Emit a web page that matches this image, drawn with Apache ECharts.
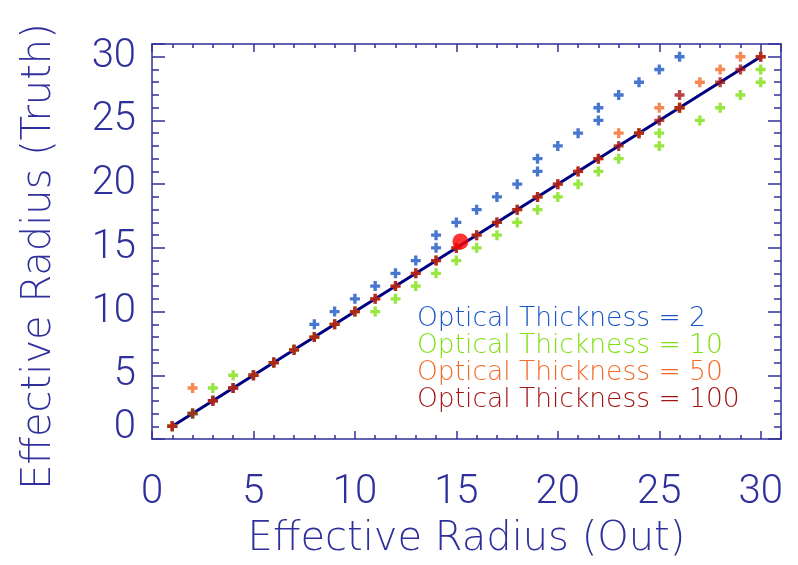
<!DOCTYPE html>
<html>
<head>
<meta charset="utf-8">
<script src="https://cdn.jsdelivr.net/npm/echarts@6/dist/echarts.min.js"></script>
<style>html,body{margin:0;padding:0;background:#fff;}#c{width:798px;height:565px;}</style>
</head>
<body>
<div id="c"></div>
<script>
// Effective Radius (Out) vs (Truth) for each optical thickness
const tau2X   = [1,2,3,4,5,6,7,8,9,10,11,12,13,14,14,15,16,17,18,19,19,20,21,22,22,23,24,25,26];
const tau2Y   = [1,2,3,4,5,6,7,9,10,11,12,13,14,15,16,17,18,19,20,21,22,23,24,25,26,27,28,29,30];
const tau10X  = [1,2,3,4,5,6,7,8,9,10,11,12,13,14,15,16,17,18,19,20,21,22,23,24,25,25,26,27,28,29,30,30];
const tau10Y  = [1,2,4,5,5,6,7,8,9,10,10,11,12,13,14,15,16,17,18,19,20,21,22,24,23,24,26,25,26,27,28,29];
const tau50X  = [1,2,3,4,5,6,7,8,9,10,11,12,13,14,15,16,17,18,19,20,21,22,23,24,25,26,27,28,29,30];
const tau50Y  = [1,4,3,4,5,6,7,8,9,10,11,12,13,14,15,16,17,18,19,20,21,22,24,24,26,26,28,29,30,30];
const tau100X = [1,2,3,4,5,6,7,8,9,10,11,12,13,14,15,16,17,18,19,20,21,22,23,24,25,26,26,28,29,30];
const tau100Y = [1,2,3,4,5,6,7,8,9,10,11,12,13,14,15,16,17,18,19,20,21,22,23,24,25,26,27,28,29,30];
const oneToOneX = [1,30];
const oneToOneY = [1,30];
const markerX = [15.2];
const markerY = [15.5];
const seriesNames = ['Optical Thickness = 2','Optical Thickness = 10','Optical Thickness = 50','Optical Thickness = 100'];
const seriesColors = ['#1A55C4','#80E012','#F26A28','#A31414'];
const axisMin = 0, axisMax = 31, majorStep = 5;
const xTitle = 'Effective Radius (Out)';
const yTitle = 'Effective Radius (Truth)';

const zip = (xs, ys) => xs.map((x, i) => [x, ys[i]]);
const AX = '#30309C';
const NUMFONT = 'Roboto';
const TXTFONT = '"DejaVu Sans"';
const plus = 'path://M3 0H6V3H9V6H6V9H3V6H0V3H3Z';

function labelFmt(v) {
  if (v === 0) return '{z|0}';
  if (v % majorStep !== 0) return '';
  return String(v);
}
const lblStyle = {color: AX, fontFamily: NUMFONT, fontWeight: 300, fontSize: 40};
const titleStyle = {color: AX, fontFamily: TXTFONT, fontWeight: 200, fontSize: 40};

function mkX(pos, showLabel) {
  return {
    type: 'value', position: pos, min: axisMin, max: axisMax, interval: majorStep,
    axisLine: {show: true, onZero: false, lineStyle: {color: AX, width: 1.5}},
    axisTick: {show: true, inside: true, length: 8, lineStyle: {color: AX, width: 1.5}},
    minorTick: {show: true, splitNumber: 5, length: 4, lineStyle: {color: AX, width: 1.5}},
    splitLine: {show: false}, minorSplitLine: {show: false},
    axisLabel: showLabel ? Object.assign({show: true, margin: 34, showMaxLabel: false,
      formatter: v => (v % majorStep === 0 ? String(v) : '')}, lblStyle) : {show: false},
    name: showLabel ? xTitle : '', nameLocation: 'middle', nameGap: 81,
    nameTextStyle: titleStyle
  };
}
function mkY(pos, showLabel) {
  return {
    type: 'value', position: pos, min: axisMin, max: axisMax, interval: majorStep,
    axisLine: {show: true, onZero: false, lineStyle: {color: AX, width: 1.5}},
    axisTick: {show: true, inside: true, length: 13, lineStyle: {color: AX, width: 1.5}},
    minorTick: {show: true, splitNumber: 5, length: 7, lineStyle: {color: AX, width: 1.5}},
    splitLine: {show: false}, minorSplitLine: {show: false},
    axisLabel: showLabel ? Object.assign({show: true, margin: 16, showMaxLabel: false,
      formatter: labelFmt,
      rich: {z: Object.assign({padding: [0, 0, 22, 0]}, lblStyle)}}, lblStyle) : {show: false},
    name: showLabel ? yTitle : '', nameLocation: 'middle', nameGap: 92,
    nameTextStyle: Object.assign({padding: [0, 30, 0, 0]}, titleStyle)
  };
}

const pts = [zip(tau2X, tau2Y), zip(tau10X, tau10Y), zip(tau50X, tau50Y), zip(tau100X, tau100Y)];

const chart = echarts.init(document.getElementById('c'), null, {renderer: 'canvas'});
chart.setOption({
  animation: false,
  backgroundColor: '#ffffff',
  grid: {left: 152, right: 17, top: 44, bottom: 125, containLabel: false},
  xAxis: [mkX('bottom', true), mkX('top', false)],
  yAxis: [mkY('left', true), mkY('right', false)],
  legend: {
    show: true, orient: 'vertical', left: 407, top: 301, icon: 'none',
    itemWidth: 0, itemHeight: 25, itemGap: 0, selectedMode: false,
    textStyle: {fontFamily: TXTFONT, fontWeight: 200, fontSize: 26.5, lineHeight: 25, padding: 0},
    data: seriesNames.map((n, i) => ({name: n, textStyle: {color: seriesColors[i]}}))
  },
  series: [
    {type: 'line', data: zip(oneToOneX, oneToOneY), showSymbol: false, symbol: 'none',
     lineStyle: {color: '#000080', width: 3}, z: 1, silent: true}
  ].concat(pts.map((d, i) => ({
    type: 'scatter', name: seriesNames[i], data: d, symbol: plus, symbolSize: 10,
    itemStyle: {color: seriesColors[i]}, z: 2 + i
  }))).concat([
    {type: 'scatter', data: zip(markerX, markerY), symbol: 'circle', symbolSize: 16,
     itemStyle: {color: '#FF0000'}, z: 10}
  ])
});
</script>
</body>
</html>
